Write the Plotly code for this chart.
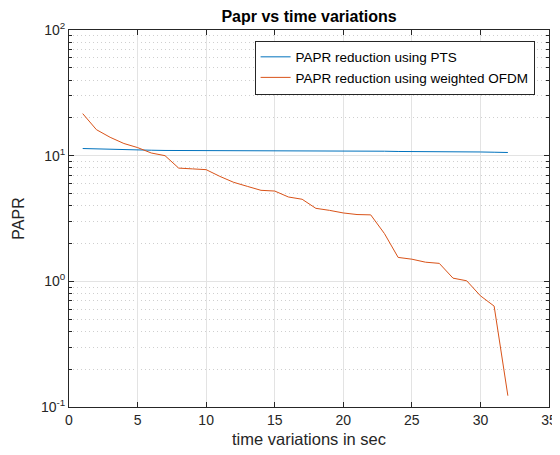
import plotly.graph_objects as go

time_sec = list(range(1, 33))
papr_pts = [11.4, 11.3, 11.2, 11.15, 11.1, 11.05, 11.0, 11.0, 11.0, 11.0,
            11.0, 11.0, 10.95, 10.95, 10.95, 10.95, 10.9, 10.9, 10.9, 10.9,
            10.85, 10.85, 10.85, 10.8, 10.8, 10.8, 10.75, 10.75, 10.7, 10.7,
            10.65, 10.6]
papr_wofdm = [21.6, 16.1, 14.0, 12.5, 11.6, 10.5, 10.0, 7.96, 7.85, 7.74,
              6.84, 6.14, 5.70, 5.30, 5.23, 4.69, 4.50, 3.81, 3.67, 3.50,
              3.40, 3.38, 2.40, 1.55, 1.50, 1.42, 1.39, 1.06, 1.01, 0.767,
              0.635, 0.123]
x_ticks = [0, 5, 10, 15, 20, 25, 30, 35]
y_tickvals = [0.1, 1, 10, 100]
y_ticktext = ["10<sup>-1</sup>", "10<sup>0</sup>", "10<sup>1</sup>", "10<sup>2</sup>"]
series_names = ["PAPR reduction using PTS", "PAPR reduction using weighted OFDM"]

FONT = "Liberation Sans, Arial, Helvetica, sans-serif"

# page body has an 8px default margin, so the figure is sized to the visible area
W, H = 552, 447

fig = go.Figure()
fig.add_trace(go.Scatter(x=time_sec, y=papr_pts, mode="lines", name=series_names[0],
                         line=dict(color="#0072BD", width=1)))
fig.add_trace(go.Scatter(x=time_sec, y=papr_wofdm, mode="lines", name=series_names[1],
                         line=dict(color="#D95319", width=1)))

fig.update_layout(
    width=W, height=H,
    margin=dict(l=61, r=11, t=21.5, b=48, autoexpand=False),
    paper_bgcolor="white", plot_bgcolor="white",
    font=dict(family=FONT, size=14, color="#262626"),
    title=dict(text="<b>Papr vs time variations</b>", x=301 / W, xanchor="center",
               y=1 - 8 / H, yanchor="middle", font=dict(size=16, color="black"),
               automargin=False),
    legend=dict(x=0.97, y=0.972, xanchor="right", yanchor="top",
                bordercolor="#262626", borderwidth=1, bgcolor="white",
                font=dict(size=13.5, color="black"), tracegroupgap=0),
    showlegend=True,
)
fig.update_xaxes(
    range=[0, 35], tickvals=x_ticks, ticks="inside", ticklen=5, tickcolor="#262626",
    showline=True, linecolor="#262626", linewidth=1, mirror="allticks",
    showgrid=True, gridcolor="#e3e3e3", gridwidth=1, zeroline=False, automargin=False,
    title=dict(text="time variations in sec", font=dict(size=16.5, color="#262626"), standoff=6),
    tickfont=dict(size=14),
)
fig.update_yaxes(
    type="log", range=[-1, 2], tickvals=y_tickvals, ticktext=y_ticktext,
    ticks="inside", ticklen=5, tickcolor="#262626",
    showline=True, linecolor="#262626", linewidth=1, mirror="allticks",
    showgrid=True, gridcolor="#e3e3e3", gridwidth=1, zeroline=False, automargin=False,
    minor=dict(dtick="D1", ticks="inside", ticklen=3, tickcolor="#262626",
               showgrid=True, gridcolor="#cfcfcf", griddash="1px,3px", gridwidth=1),
    title=dict(text="PAPR", font=dict(size=16, color="#262626"), standoff=12),
    tickfont=dict(size=14),
)

fig.write_html("out.html")
